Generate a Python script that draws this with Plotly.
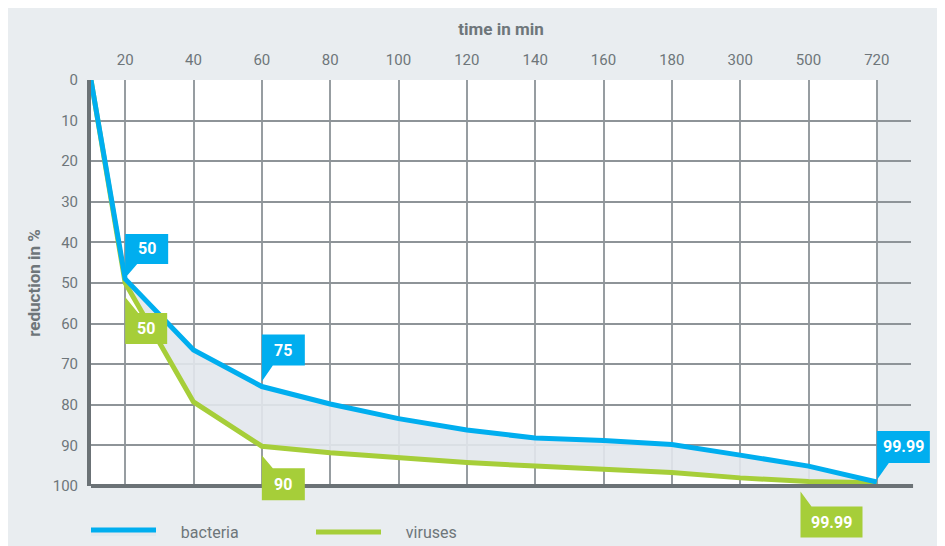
import plotly.graph_objects as go

# ---------------- data ----------------
times = [0, 20, 40, 60, 80, 100, 120, 140, 160, 180, 300, 500, 720]
tick_labels = ["20", "40", "60", "80", "100", "120", "140", "160", "180", "300", "500", "720"]
bacteria = [0, 49, 66.5, 75.5, 79.8, 83.4, 86.2, 88.2, 88.8, 89.8, 92.4, 95.1, 99.0]
viruses = [0, 50, 79.3, 90.2, 91.8, 93.1, 94.2, 95.1, 95.9, 96.7, 98.0, 98.9, 99.2]
y_ticks = [0, 10, 20, 30, 40, 50, 60, 70, 80, 90, 100]

# callouts: (series, time, label, direction)
callouts = [
    ("bacteria", 20, "50", "up"),
    ("bacteria", 60, "75", "up"),
    ("bacteria", 720, "99.99", "up"),
    ("viruses", 20, "50", "down"),
    ("viruses", 60, "90", "down"),
    ("viruses", 500, "99.99", "down"),
]
# pixel geometry of each callout: tip offset, box offset, box height, width, tail width, x offset
callout_geom = [
    (1, 15, 30, 43, 12, 0),
    (5, 21, 31, 43, 11, 0),
    (2, 19, 32, 53, 12, 0),
    (14, 30, 31, 42, 13, 0),
    (9, 22, 32, 43, 11, 0),
    (10, 25, 31, 62, 11, -8),
]

BLUE = "#00aeef"
GREEN = "#a6ce39"
GRAY_TXT = "#6e767a"
BG = "#e9edf0"
FONT = "Roboto"

# category-like positions: 0 at left edge, ticks at half steps
pos = [0.0] + [i + 0.5 for i in range(len(tick_labels))]
tick_pos = pos[1:]
x_max = len(tick_labels)

series = {"bacteria": bacteria, "viruses": viruses}
colors = {"bacteria": BLUE, "viruses": GREEN}

# ---------------- layout geometry (figure pixels) ----------------
W, H = 937, 538
L, T = 83, 72
R_main, B_main = 903, 478
R_full, B_full = 932, 533
pw, ph = R_full - L, B_full - T
x_dom_end = (R_main - L) / pw
y_dom_start = (B_full - B_main) / ph
x2_max = x_max * pw / (R_main - L)
y2_max = 100 * ph / (B_main - T)

fig = go.Figure()

fig.add_trace(go.Scatter(
    x=pos, y=viruses, name="\u00a0\u00a0\u00a0\u00a0\u00a0viruses", mode="lines",
    line=dict(color=GREEN, width=5), hoverinfo="skip",
))
fig.add_trace(go.Scatter(
    x=pos, y=bacteria, name="\u00a0\u00a0\u00a0\u00a0\u00a0bacteria", mode="lines",
    line=dict(color=BLUE, width=5), fill="tonexty",
    fillcolor="rgba(226,231,236,0.9)", hoverinfo="skip",
))

shapes = []
# white plotting field up to last tick
shapes.append(dict(type="rect", xref="x", yref="y",
                   x0=pos[0], x1=tick_pos[-1], y0=y_ticks[0], y1=y_ticks[-1],
                   fillcolor="white", line=dict(width=0), layer="below"))
# bottom axis line
shapes.append(dict(type="line", xref="x2", yref="y2",
                   x0=pos[0], x1=x_max + 0.03, y0=y_ticks[-1], y1=y_ticks[-1],
                   line=dict(color="#6b7276", width=4), layer="above"))

annotations = []
for (name, t, label, direction), (tip, b, h, w, tw, xo) in zip(callouts, callout_geom):
    i = times.index(t)
    xv, yv = pos[i], series[name][i]
    s = 1 if direction == "up" else -1
    path = (f"M {xo},{s*tip} L {xo},{s*(b+h)} L {xo+w},{s*(b+h)} "
            f"L {xo+w},{s*b} L {xo+tw},{s*b} Z")
    shapes.append(dict(type="path", xref="x2", yref="y2",
                       xsizemode="pixel", ysizemode="pixel",
                       xanchor=xv, yanchor=yv, path=path,
                       fillcolor=colors[name], line=dict(width=0), layer="above"))
    annotations.append(dict(x=xv, y=yv, xref="x2", yref="y2", text=label,
                            showarrow=False, xshift=xo + w / 2, yshift=s * (b + h / 2),
                            font=dict(family=FONT, size=16, color="white", weight="bold")))

fig.update_layout(
    width=W, height=H,
    margin=dict(l=L, r=W - R_full, t=T, b=H - B_full, autoexpand=False),
    paper_bgcolor=BG,
    plot_bgcolor="rgba(0,0,0,0)",
    font=dict(family=FONT, color=GRAY_TXT, size=15),
    showlegend=True,
    legend=dict(orientation="h", x=(78 - L) / pw, y=(B_full - 524) / ph,
                xanchor="left", yanchor="middle", itemwidth=65,
                entrywidth=145, entrywidthmode="pixels",
                traceorder="reversed", bgcolor="rgba(0,0,0,0)",
                font=dict(family=FONT, size=16, color=GRAY_TXT)),
    xaxis=dict(domain=[0, x_dom_end], range=[0, x_max], side="top", automargin=False,
               tickvals=tick_pos, ticktext=tick_labels, showgrid=True,
               gridcolor="#979da1", gridwidth=1.5, zeroline=False, showline=False,
               ticks="", ticklabelstandoff=11, tickfont=dict(size=15, color=GRAY_TXT),
               title=dict(text="<b>time in min</b>", standoff=11,
                          font=dict(size=17, color=GRAY_TXT))),
    yaxis=dict(domain=[y_dom_start, 1], range=[100, 0], tickvals=y_ticks, automargin=False,
               showgrid=True, gridcolor="#8e9498", gridwidth=1.5, zeroline=False,
               showline=True, linecolor="#6b7276", linewidth=4, ticks="",
               ticklabelstandoff=6, tickfont=dict(size=15, color=GRAY_TXT),
               title=dict(text="<b>reduction in %</b>", standoff=9,
                          font=dict(size=17, color=GRAY_TXT))),
    xaxis2=dict(domain=[0, 1], range=[0, x2_max], visible=False, anchor="y2",
                automargin=False),
    yaxis2=dict(domain=[0, 1], range=[y2_max, 0], visible=False, anchor="x2",
                automargin=False),
    shapes=shapes,
    annotations=annotations,
)

fig.write_html("out.html")
